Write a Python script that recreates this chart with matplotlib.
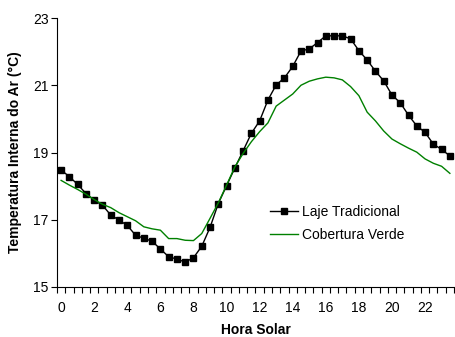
import matplotlib
matplotlib.use("Agg")
import matplotlib.pyplot as plt
import numpy as np

plt.rcParams['font.family'] = ['Liberation Sans', 'DejaVu Sans']

hours = [i * 0.5 for i in range(48)]
laje = [18.48, 18.28, 18.05, 17.78, 17.58, 17.43, 17.14, 16.99, 16.83, 16.54,
        16.45, 16.36, 16.13, 15.90, 15.83, 15.74, 15.87, 16.21, 16.77, 17.48,
        18.01, 18.54, 19.05, 19.57, 19.94, 20.56, 21.01, 21.22, 21.56, 22.02,
        22.08, 22.27, 22.47, 22.47, 22.47, 22.38, 22.03, 21.75, 21.42, 21.13,
        20.71, 20.48, 20.11, 19.79, 19.60, 19.25, 19.09, 18.90]
verde = [18.17, 18.03, 17.90, 17.76, 17.60, 17.46, 17.36, 17.21, 17.09, 16.97,
         16.79, 16.73, 16.69, 16.44, 16.44, 16.39, 16.38, 16.59, 17.04, 17.50,
         18.03, 18.57, 18.97, 19.32, 19.62, 19.88, 20.38, 20.56, 20.74, 21.00,
         21.12, 21.19, 21.24, 21.22, 21.16, 20.96, 20.69, 20.20, 19.94, 19.64,
         19.40, 19.26, 19.13, 19.01, 18.81, 18.68, 18.59, 18.38]
xtick_labels = [str(h) for h in range(0, 24, 2)]
yticks = [15, 17, 19, 21, 23]

fig = plt.figure(figsize=(4.55, 3.37), dpi=100)
ax = fig.add_axes([57/455, 1 - 287/337, (454-57)/455, (287-18)/337])

ax.plot(hours, laje, color='black', lw=1.0, marker='s', markersize=5,
        markerfacecolor='black', markeredgecolor='black', label='Laje Tradicional')
ax.plot(hours, verde, color='#008000', lw=1.0, label='Cobertura Verde')

ax.set_xlim(-0.25, 23.75)
ax.set_ylim(15, 23)
ax.set_yticks(yticks)
ax.set_yticklabels([str(v) for v in yticks], fontsize=10)
ax.set_xticks(np.arange(0, 24, 2))
ax.set_xticklabels(xtick_labels, fontsize=10)
ax.tick_params(axis='x', which='major', length=0, pad=10)
ax.set_xticks(np.arange(-0.25, 24, 0.5), minor=True)
ax.tick_params(axis='x', which='minor', length=4, direction='out', width=0.8)
ax.tick_params(axis='y', which='major', length=4, direction='out', width=0.8, pad=2)

for s in ['top', 'right']:
    ax.spines[s].set_visible(False)
for s in ['left', 'bottom']:
    ax.spines[s].set_linewidth(0.8)

ax.set_ylabel('Temperatura Interna do Ar (°C)', fontsize=10, fontweight='bold', labelpad=8)
ax.set_xlabel('Hora Solar', fontsize=10, fontweight='bold', labelpad=6)

ax.legend(loc='upper left', bbox_to_anchor=(0.505, 0.35), frameon=False, fontsize=10,
          handlelength=2.0, handletextpad=0.3, labelspacing=0.6)

fig.savefig('out.png', dpi=100)
